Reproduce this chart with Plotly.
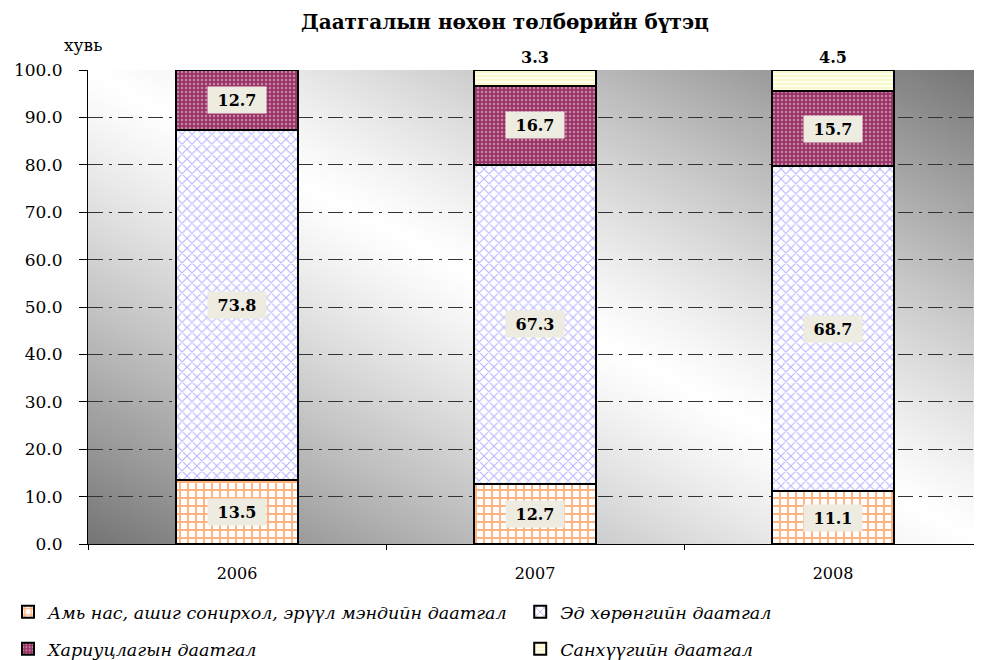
import base64, struct, zlib
import plotly.graph_objects as go

years = ["2006", "2007", "2008"]
life = [13.5, 12.7, 11.1]
prop = [73.8, 67.3, 68.7]
liab = [12.7, 16.7, 15.7]
fin = [0.0, 3.3, 4.5]
series_names = [
    "Амь нас, ашиг сонирхол, эрүүл мэндийн даатгал",
    "Эд хөрөнгийн даатгал",
    "Хариуцлагын даатгал",
    "Санхүүгийн даатгал",
]
y_ticks = [0, 10, 20, 30, 40, 50, 60, 70, 80, 90, 100]

# ---- diagonal gradient background as a PNG data URI ----
def make_png(w, h):
    rows = bytearray()
    for j in range(h):
        v = j / (h - 1)
        rows.append(0)
        for i in range(w):
            u = i / (w - 1)
            d = abs(u - v) ** 1.2
            c = int(round(255 - d * 138))
            rows += bytes((c, c, c))
    def chunk(tag, data):
        c = struct.pack(">I", len(data)) + tag + data
        return c + struct.pack(">I", zlib.crc32(tag + data) & 0xffffffff)
    png = b"\x89PNG\r\n\x1a\n"
    png += chunk(b"IHDR", struct.pack(">IIBBBBB", w, h, 8, 2, 0, 0, 0))
    png += chunk(b"IDAT", zlib.compress(bytes(rows), 9))
    png += chunk(b"IEND", b"")
    return "data:image/png;base64," + base64.b64encode(png).decode()

bg = make_png(300, 160)

serif = "DejaVu Serif"
fig = go.Figure()

styles = [
    dict(shape="+", fgcolor="#ff6600", bgcolor="white", size=8, solidity=0.42),
    dict(shape="x", fgcolor="#6c6cff", bgcolor="white", size=7, solidity=0.28),
    dict(shape=".", fgcolor="#f2d6e4", bgcolor="#993366", size=4, solidity=0.3),
    dict(shape="-", fgcolor="#f2ec98", bgcolor="#ffffee", size=4, solidity=0.4),
]
legends = ["legend", "legend2", "legend3", "legend4"]
for vals, name, st, lg in zip([life, prop, liab, fin], series_names, styles, legends):
    fig.add_trace(go.Bar(
        x=years, y=vals, name=name,
        marker=dict(color=st["bgcolor"], pattern=st, line=dict(color="black", width=2)),
        legend=lg, hoverinfo="skip", showlegend=True,
    ))

# labels (x given as category index)
box = dict(bgcolor="#eeece1", borderpad=0, width=58, height=26,
           font=dict(family=serif, size=16, color="black", weight="bold"))
for k in range(len(years)):
    base = 0.0
    for s_idx, vals in enumerate([life, prop, liab, fin]):
        v = vals[k]
        if v <= 0:
            continue
        if s_idx == 3:
            fig.add_annotation(x=k, y=base + v, text=f"{v:.1f}", showarrow=False,
                               yanchor="bottom", yshift=1,
                               font=dict(family=serif, size=16, color="black", weight="bold"))
        else:
            fig.add_annotation(x=k, y=base + v / 2, text=f"{v:.1f}", showarrow=False,
                               **box)
        base += v

fig.add_annotation(text="хувь", xref="paper", yref="paper", x=-0.006, y=1.053,
                   xanchor="center", yanchor="middle", showarrow=False,
                   font=dict(family=serif, size=17, color="black"))

# page body has an 8px margin: figure coordinates are screen coordinates minus 8
leg_common = dict(orientation="h", xref="container", yref="container",
                  xanchor="left", yanchor="middle", itemsizing="constant", itemwidth=30,
                  bgcolor="rgba(0,0,0,0)", visible=True,
                  font=dict(family=serif, size=17.5, style="italic"))
fig.update_layout(
    width=982, height=660, showlegend=True,
    margin=dict(l=80, r=8, t=62, b=124),
    paper_bgcolor="white", plot_bgcolor="rgba(0,0,0,0)",
    barmode="stack", bargap=0.59,
    title=dict(text="<b>Даатгалын нөхөн төлбөрийн бүтэц</b>", x=0.506, xanchor="center",
               y=0.979, yanchor="middle",
               font=dict(family=serif, size=20, color="black")),
    font=dict(family=serif, size=15, color="black"),
    images=[dict(source=bg, xref="paper", yref="paper", x=0, y=1, sizex=1, sizey=1,
                 xanchor="left", yanchor="top", sizing="stretch", layer="below")],
    xaxis=dict(type="category", range=[-0.5, 2.5], autorange=False,
               showgrid=False, showline=True, linecolor="black", linewidth=1,
               ticks="outside", ticklen=5, tickson="boundaries", tickcolor="black",
               tickangle=0, automargin=False, ticklabelstandoff=15,
               tickfont=dict(family=serif, size=16)),
    yaxis=dict(range=[0, 100], autorange=False, tickvals=y_ticks, tickformat=".1f",
               showgrid=True, gridcolor="#333333", gridwidth=1, griddash="longdashdot",
               showline=True, linecolor="black", linewidth=1,
               ticks="outside", ticklen=8, tickcolor="black", automargin=False,
               ticklabelstandoff=13,
               tickfont=dict(family=serif, size=17), zeroline=False),
    legend=dict(x=-0.021, y=0.085, **leg_common),
    legend2=dict(x=0.5216, y=0.085, **leg_common),
    legend3=dict(x=-0.021, y=0.029, **leg_common),
    legend4=dict(x=0.5216, y=0.029, **leg_common),
)

fig.write_html("out.html")
